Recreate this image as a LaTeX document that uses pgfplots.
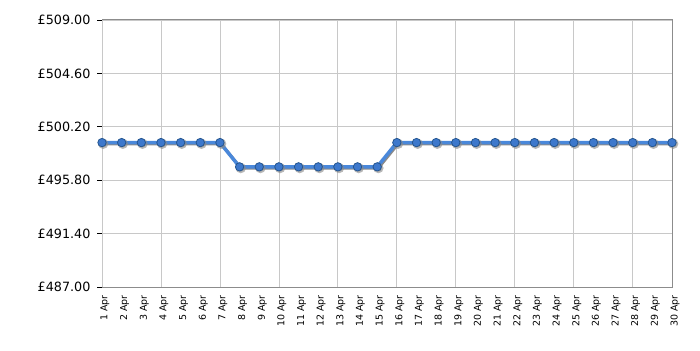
\documentclass[border=0pt]{standalone}
\usepackage{fontspec}
\setmainfont{DejaVu Sans}
\usepackage{pgfplots}
\pgfplotsset{compat=1.18}
\definecolor{linec}{HTML}{4A88DA}
\definecolor{markf}{HTML}{3D78CC}
\definecolor{marke}{HTML}{24558F}
\definecolor{gridc}{HTML}{C8C8C8}
\definecolor{axc}{HTML}{8C8C8C}
\definecolor{shadc}{HTML}{8A8A8A}
\begin{document}
\begin{tikzpicture}[x=1bp,y=1bp]
\path (0,0) rectangle (700,350);
\begin{axis}[
  at={(102bp,63bp)}, anchor=south west,
  scale only axis, width=570bp, height=267bp,
  xmin=1, xmax=30, ymin=487, ymax=509,
  ytick={487,491.4,495.8,500.2,504.6,509},
  yticklabel={£\pgfmathprintnumber[fixed,fixed zerofill,precision=2]{\tick}},
  /pgf/number format/assume math mode=true,
  xtick={1,...,30},
  xticklabels={1 Apr,2 Apr,3 Apr,4 Apr,5 Apr,6 Apr,7 Apr,8 Apr,9 Apr,10 Apr,11 Apr,12 Apr,13 Apr,14 Apr,15 Apr,16 Apr,17 Apr,18 Apr,19 Apr,20 Apr,21 Apr,22 Apr,23 Apr,24 Apr,25 Apr,26 Apr,27 Apr,28 Apr,29 Apr,30 Apr},
  x tick label style={rotate=90, anchor=east, font=\fontsize{9.5}{10}\selectfont, yshift=-3bp},
  y tick label style={font=\fontsize{12.8}{14}\selectfont, xshift=-3bp},
  tick pos=left, tick align=outside,
  major tick length=5bp,
  xmajorgrids=false, ymajorgrids=true,
  x tick style={draw=none},
  y tick style={draw=black, line width=0.8pt},
  extra x ticks={1,4,7,10,13,16,19,22,25,28},
  extra x tick labels={},
  extra x tick style={grid=major, major tick length=5bp, tick style={draw=black, line width=0.8pt}},
  grid style={draw=gridc, line width=0.8pt},
  axis line style={draw=axc, line width=1pt},
  clip=false,
]
\addplot[draw=shadc, line width=3bp, shift={(1.2bp,-1.2bp)}, mark=*, mark size=3.6bp, mark options={draw=none, fill=shadc, opacity=0.6}] coordinates {
(1,498.9)(2,498.9)(3,498.9)(4,498.9)(5,498.9)(6,498.9)(7,498.9)
(8,496.9)(9,496.9)(10,496.9)(11,496.9)(12,496.9)(13,496.9)(14,496.9)(15,496.9)
(16,498.9)(17,498.9)(18,498.9)(19,498.9)(20,498.9)(21,498.9)(22,498.9)(23,498.9)
(24,498.9)(25,498.9)(26,498.9)(27,498.9)(28,498.9)(29,498.9)(30,498.9)};
\addplot[draw=linec, line width=3.5bp, mark=*, mark size=4.2bp, mark options={draw=marke, fill=markf, line width=0.8pt}] coordinates {
(1,498.9)(2,498.9)(3,498.9)(4,498.9)(5,498.9)(6,498.9)(7,498.9)
(8,496.9)(9,496.9)(10,496.9)(11,496.9)(12,496.9)(13,496.9)(14,496.9)(15,496.9)
(16,498.9)(17,498.9)(18,498.9)(19,498.9)(20,498.9)(21,498.9)(22,498.9)(23,498.9)
(24,498.9)(25,498.9)(26,498.9)(27,498.9)(28,498.9)(29,498.9)(30,498.9)};
\end{axis}
\end{tikzpicture}
\end{document}
